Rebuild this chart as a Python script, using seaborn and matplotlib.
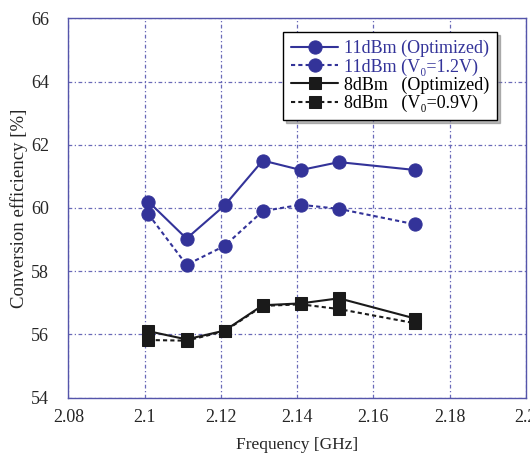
import numpy as np
import pandas as pd
import seaborn as sns
import matplotlib
matplotlib.use('Agg')
import matplotlib.pyplot as plt

# data
freq = [2.101, 2.111, 2.121, 2.131, 2.141, 2.151, 2.171]
eff_11_opt = [60.2, 59.03, 60.08, 61.5, 61.2, 61.45, 61.2]
eff_11_v12 = [59.8, 58.2, 58.8, 59.9, 60.1, 59.97, 59.48]
eff_8_opt = [56.1, 55.84, 56.12, 56.92, 56.98, 57.14, 56.5]
eff_8_v09 = [55.82, 55.8, 56.1, 56.9, 56.95, 56.8, 56.35]

labels = ['11dBm (Optimized)', '11dBm (V\u2080=1.2V)', '8dBm   (Optimized)', '8dBm   (V\u2080=0.9V)']

sns.set_style('white')
plt.rcParams['font.family'] = ['Liberation Serif', 'DejaVu Serif']

blue = '#333399'
grid_c = '#6a6ab8'

fig, ax = plt.subplots(figsize=(5.3, 4.58), dpi=100)
fig.subplots_adjust(left=0.129, right=0.992, top=0.96, bottom=0.132)

sns.lineplot(x=freq, y=eff_11_opt, ax=ax, color=blue, marker='o', markersize=9.5,
             linestyle='-', linewidth=1.5, markeredgecolor=blue, label=labels[0])
sns.lineplot(x=freq, y=eff_11_v12, ax=ax, color=blue, marker='o', markersize=9.5,
             linestyle=(0, (2, 1.5)), linewidth=1.5, markeredgecolor=blue, label=labels[1])
sns.lineplot(x=freq, y=eff_8_opt, ax=ax, color='#1a1a1a', marker='s', markersize=8,
             linestyle='-', linewidth=1.5, markeredgecolor='#1a1a1a', label=labels[2])
sns.lineplot(x=freq, y=eff_8_v09, ax=ax, color='#1a1a1a', marker='s', markersize=8,
             linestyle=(0, (2, 1.5)), linewidth=1.5, markeredgecolor='#1a1a1a', label=labels[3])

ax.set_xlim(2.08, 2.2)
ax.set_ylim(54, 66)
ax.set_xticks(np.arange(2.08, 2.201, 0.02))
ax.set_xticklabels(['2.08', '2.1', '2.12', '2.14', '2.16', '2.18', '2.2'])
ax.set_yticks(range(54, 67, 2))

ax.grid(True, color=grid_c, linestyle=(0, (3, 2, 1, 2)), linewidth=0.9)
for s in ax.spines.values():
    s.set_color('#5555aa')
    s.set_linewidth(1.0)
ax.tick_params(direction='in', length=4, color='#5555aa', labelsize=13)
ax.tick_params(axis='y', pad=14)
ax.tick_params(axis='x', pad=8)

ax.set_xlabel('Frequency [GHz]', fontsize=12.5, labelpad=8)
ax.set_ylabel('Conversion efficiency [%]', fontsize=13.5, labelpad=2)

leg = ax.legend(loc='upper right', bbox_to_anchor=(0.937, 0.964), borderaxespad=0,
                fontsize=13, fancybox=False, framealpha=1, edgecolor='black',
                handlelength=2.6, handletextpad=0.3, labelspacing=0.05,
                borderpad=0.45, shadow={'ox': 2, 'oy': -2, 'color': '#777777'})
leg.get_frame().set_linewidth(1.0)
for txt, c in zip(leg.get_texts(), [blue, blue, 'black', 'black']):
    txt.set_color(c)

fig.savefig('out.png', dpi=100)
